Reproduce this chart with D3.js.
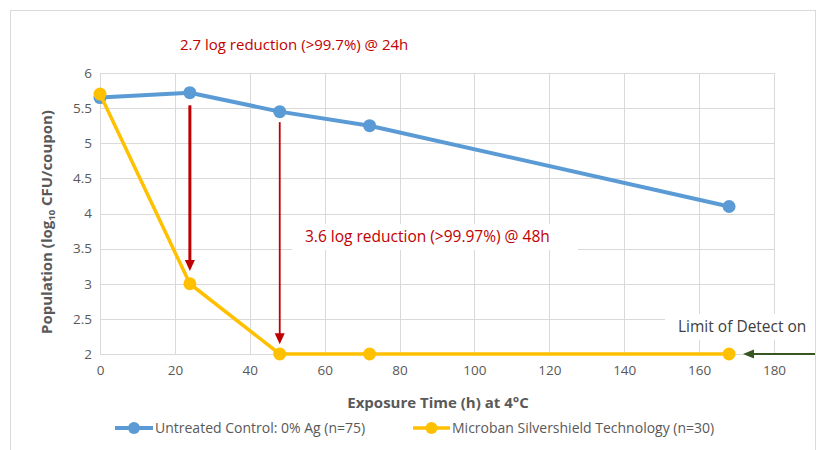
<!DOCTYPE html>
<html><head><meta charset="utf-8">
<script src="https://cdn.jsdelivr.net/npm/d3@7"></script>
<style>body{margin:0;background:#fff;} svg{display:block;font-family:"Open Sans","Liberation Sans",sans-serif;}</style>
</head><body>
<svg id="c" width="816" height="450"></svg>
<script>
const hours = [0, 24, 48, 72, 168];
const controlVals = [5.65, 5.72, 5.45, 5.25, 4.1];
const microbanVals = [5.7, 3.0, 2.0, 2.0, 2.0];
const xTicks = [0, 20, 40, 60, 80, 100, 120, 140, 160, 180];
const yTicks = [2, 2.5, 3, 3.5, 4, 4.5, 5, 5.5, 6];
const seriesNames = ["Untreated Control: 0% Ag (n=75)", "Microban Silvershield Technology (n=30)"];
const arrowX = [24, 48];
const arrowFrom = [5.54, 5.3];
const arrowTo = [3.18, 2.14];
const notes = ["2.7 log reduction (>99.7%) @ 24h", "3.6 log reduction (>99.97%) @ 48h", "Limit of Detect on"];

const svg = d3.select("#c");
const x = d3.scaleLinear().domain([0, 180]).range([100, 774]);
const y = d3.scaleLinear().domain([2, 6]).range([354, 73]);

svg.append("rect").attr("x", 10.5).attr("y", 10.5).attr("width", 805).attr("height", 460)
  .attr("fill", "#fff").attr("stroke", "#d9d9d9");

// gridlines
svg.append("g").selectAll("line").data(yTicks).join("line")
  .attr("x1", x(0)).attr("x2", x(180)).attr("y1", d => Math.round(y(d)) + 0.5).attr("y2", d => Math.round(y(d)) + 0.5)
  .attr("stroke", "#d9d9d9");
svg.append("g").selectAll("line").data(xTicks).join("line")
  .attr("y1", y(2)).attr("y2", y(6)).attr("x1", d => Math.round(x(d)) + 0.5).attr("x2", d => Math.round(x(d)) + 0.5)
  .attr("stroke", "#d9d9d9");

// axes (labels only)
const xa = svg.append("g").attr("transform", `translate(0,${y(2)})`)
  .call(d3.axisBottom(x).tickValues(xTicks).tickSize(0).tickPadding(11));
xa.select(".domain").remove();
xa.selectAll("text").attr("fill", "#595959").attr("font-size", 13.5).attr("font-family", "Open Sans");
const ya = svg.append("g").attr("transform", `translate(${x(0)},0)`)
  .call(d3.axisLeft(y).tickValues(yTicks).tickSize(0).tickPadding(8).tickFormat(d3.format("")));
ya.select(".domain").remove();
ya.selectAll("text").attr("fill", "#595959").attr("font-size", 13.5).attr("font-family", "Open Sans");

// axis titles
svg.append("text").attr("x", 438).attr("y", 408).attr("text-anchor", "middle")
  .attr("font-size", 15).attr("font-weight", "bold").attr("fill", "#595959")
  .text("Exposure Time (h) at 4°C");
const yt = svg.append("text").attr("transform", "translate(52,222) rotate(-90)").attr("text-anchor", "middle")
  .attr("font-size", 15).attr("font-weight", "bold").attr("fill", "#595959");
yt.append("tspan").text("Population (log");
yt.append("tspan").attr("font-size", 9.5).attr("dy", 3).text("10");
yt.append("tspan").attr("dy", -3).text(" CFU/coupon)");

// note boxes
function note(txt, xx, yy, size, color) {
  return svg.append("text").attr("x", xx).attr("y", yy).attr("font-size", size).attr("fill", color).text(txt);
}
svg.append("rect").attr("x", 292).attr("y", 224).attr("width", 286).attr("height", 26).attr("fill", "#fff");
svg.append("rect").attr("x", 665).attr("y", 314).attr("width", 150).attr("height", 26).attr("fill", "#fff");
note(notes[0], 180, 50, 15, "#c00000");
note(notes[1], 305, 242, 15.5, "#c00000");
note(notes[2], 678, 332, 15.5, "#404040");

// lines
const line = d3.line().x(d => x(d[0])).y(d => y(d[1]));
const ctrl = hours.map((h, i) => [h, controlVals[i]]);
const mic = hours.map((h, i) => [h, microbanVals[i]]);
svg.append("path").attr("d", line(ctrl)).attr("fill", "none").attr("stroke", "#5b9bd5").attr("stroke-width", 4).attr("stroke-linejoin", "round");
svg.append("g").selectAll("circle").data(ctrl).join("circle")
  .attr("cx", d => x(d[0])).attr("cy", d => y(d[1])).attr("r", 6.5).attr("fill", "#5b9bd5");
svg.append("path").attr("d", line(mic)).attr("fill", "none").attr("stroke", "#ffc000").attr("stroke-width", 3.5).attr("stroke-linejoin", "round");
svg.append("g").selectAll("circle").data(mic).join("circle")
  .attr("cx", d => x(d[0])).attr("cy", d => y(d[1])).attr("r", 6.5).attr("fill", "#ffc000");

// red arrows
const widths = [3, 1.8];
arrowX.forEach((ax, i) => {
  const px = x(ax), y1 = y(arrowFrom[i]), y2 = y(arrowTo[i]);
  svg.append("line").attr("x1", px).attr("x2", px).attr("y1", y1).attr("y2", y2 - 10)
    .attr("stroke", "#c00000").attr("stroke-width", widths[i]);
  svg.append("path").attr("d", `M${px - 5},${y2 - 11}L${px + 5},${y2 - 11}L${px},${y2}Z`).attr("fill", "#c00000");
});

// green arrow
const gy = y(2);
svg.append("line").attr("x1", 815).attr("x2", 752).attr("y1", gy).attr("y2", gy).attr("stroke", "#375623").attr("stroke-width", 2);
svg.append("path").attr("d", `M743,${gy}L754,${gy - 4.5}L754,${gy + 4.5}Z`).attr("fill", "#375623");

// legend
const leg = [{c: "#5b9bd5", x1: 115, x2: 153, w: 4}, {c: "#ffc000", x1: 413, x2: 450, w: 3.5}];
leg.forEach((l, i) => {
  const g = svg.append("g");
  g.append("line").attr("x1", l.x1).attr("x2", l.x2).attr("y1", 428).attr("y2", 428).attr("stroke", l.c).attr("stroke-width", l.w);
  g.append("circle").attr("cx", (l.x1 + l.x2) / 2).attr("cy", 428).attr("r", 6).attr("fill", l.c);
  g.append("text").attr("x", l.x2 + 2).attr("y", 433).attr("font-size", 14).attr("fill", "#595959").text(seriesNames[i]);
});
</script>
</body></html>
